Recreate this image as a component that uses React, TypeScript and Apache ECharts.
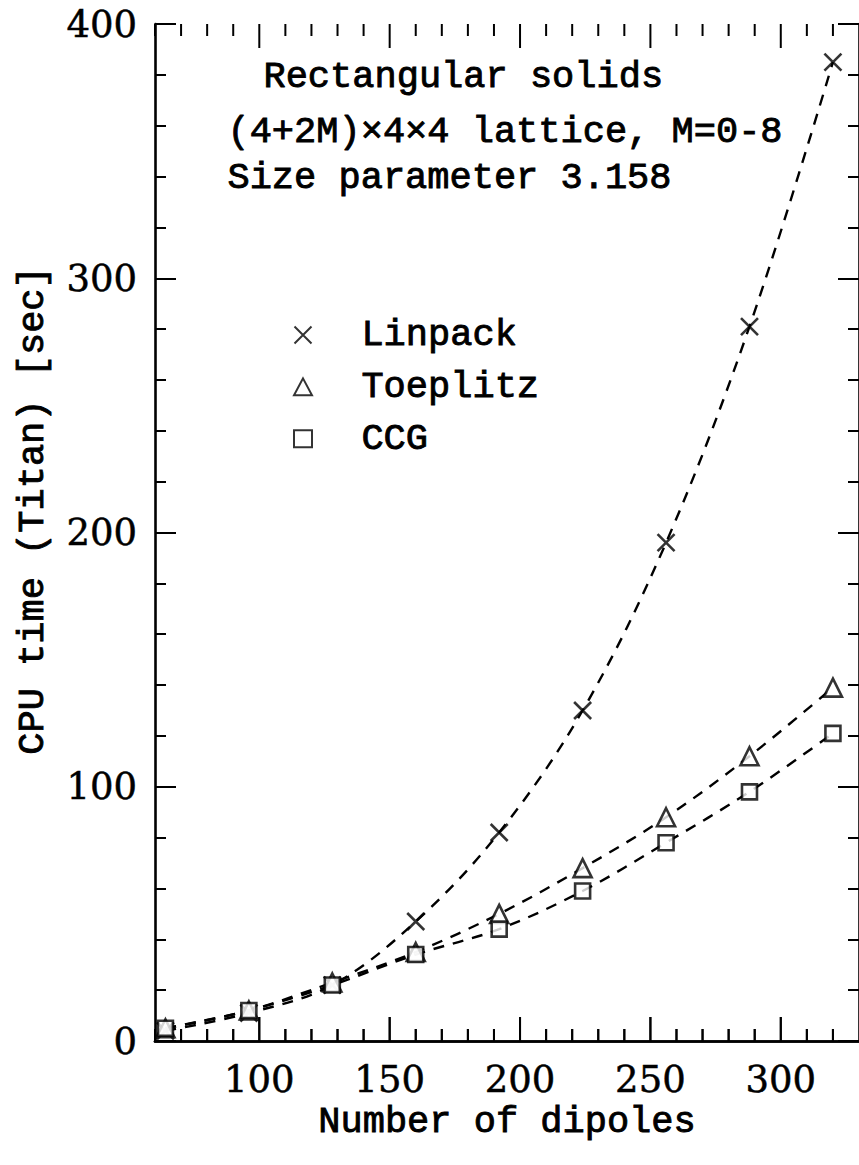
import React, { useEffect, useRef } from "react";
import * as echarts from "echarts";

const dipoles = [64, 96, 128, 160, 192, 224, 256, 288, 320];
const linpack = [4, 11, 22, 47, 82, 130, 196, 281, 385];
const toeplitz = [5, 12, 23, 35, 50, 68, 88, 112, 139];
const ccg = [5, 12, 22, 34, 44, 59, 78, 98, 121];

const xMajor = [100, 150, 200, 250, 300];
const xMinor = [60, 70, 80, 90, 110, 120, 130, 140, 160, 170, 180, 190, 210, 220, 230, 240, 260, 270, 280, 290, 310, 320];
const seriesNames = ["Linpack", "Toeplitz", "CCG"];
const noteLines = ["Rectangular solids", "(4+2M)×4×4 lattice, M=0-8", "Size parameter 3.158"];

const TEXT_FONT = "'Liberation Mono', 'DejaVu Sans Mono', monospace";
const TICK_FONT = "'DejaVu Serif', serif";
const INK = "#000";

export default function App() {
  const ref = useRef<HTMLDivElement>(null);
  useEffect(() => {
    document.body.style.margin = "0";
    const chart = echarts.init(ref.current!, null, { renderer: "svg" });
    const pts = (ys: number[]) => dipoles.map((x, i) => [x, ys[i]]);
    const axisLine = { show: true, lineStyle: { color: INK, width: 2.6 } };
    const tickStyle = { color: INK, width: 2 };
    const textStyle = { fontFamily: TEXT_FONT, fontSize: 37, color: INK, textBorderColor: INK, textBorderWidth: 0.9 };
    const tickLabel = { fontFamily: TICK_FONT, fontSize: 37, color: INK, textBorderColor: INK, textBorderWidth: 0.5 };
    const xBase = {
      type: "value",
      min: 60,
      max: 330,
      interval: 10,
      splitLine: { show: false },
      axisLine,
      axisTick: { show: false },
    };
    const fit = (name: string, ys: number[]) => ({
      name: name + " fit",
      type: "line",
      data: pts(ys),
      smooth: 0.35,
      symbol: "none",
      silent: true,
      z: 1,
      lineStyle: { color: INK, width: 2.4, type: [11, 9] },
    });
    const marks = (name: string, ys: number[], symbol: string, size: number) => ({
      name,
      type: "scatter",
      data: pts(ys),
      symbol,
      symbolSize: size,
      z: 3,
      itemStyle: { color: "#fff", borderColor: INK, borderWidth: 2.6 },
    });
    const tickValues = [...xMajor, ...xMinor];
    const tickData = tickValues.map((v) => [v, 200]);
    const notes = [
      { type: "text", left: 263, top: 76 - 18, style: { text: noteLines[0], font: `37px ${TEXT_FONT}`, fill: INK, stroke: INK, lineWidth: 0.9 } },
      { type: "text", left: 227, top: 131 - 18, style: { text: noteLines[1], font: `37px ${TEXT_FONT}`, fill: INK, stroke: INK, lineWidth: 0.9 } },
      { type: "text", left: 227, top: 177 - 18, style: { text: noteLines[2], font: `37px ${TEXT_FONT}`, fill: INK, stroke: INK, lineWidth: 0.9 } },
    ];
    chart.setOption({
      animation: false,
      grid: { left: 155, top: 24, width: 712, height: 1017, containLabel: false },
      legend: {
        data: seriesNames,
        orient: "vertical",
        left: 288,
        top: 311,
        itemWidth: 18,
        itemHeight: 17,
        itemGap: 14,
        selectedMode: false,
        formatter: (n: string) => "  " + n,
        textStyle: { ...textStyle, lineHeight: 37 },
      },
      xAxis: [
        {
          ...xBase,
          position: "bottom",
          name: "Number of dipoles",
          nameLocation: "middle",
          nameGap: 54,
          nameTextStyle: textStyle,
          axisLabel: { show: true, customValues: xMajor, margin: 20, ...tickLabel },
        },
        {
          ...xBase,
          position: "top",
          axisLabel: { show: false },
        },
      ],
      yAxis: [
        {
          type: "value",
          position: "left",
          min: 0,
          max: 400,
          interval: 100,
          splitLine: { show: false },
          axisLine,
          name: "CPU time (Titan) [sec]",
          nameLocation: "middle",
          nameGap: 104,
          nameTextStyle: { ...textStyle, padding: [0, 0, 0, 44] },
          axisTick: { show: true, inside: true, length: 21, lineStyle: tickStyle },
          minorTick: { show: true, splitNumber: 5, length: 11, lineStyle: tickStyle },
          axisLabel: { show: true, margin: 18, ...tickLabel },
        },
        {
          type: "value",
          position: "right",
          min: 0,
          max: 400,
          interval: 100,
          splitLine: { show: false },
          axisLine,
          axisTick: { show: true, inside: true, length: 21, lineStyle: tickStyle },
          minorTick: { show: true, splitNumber: 5, length: 11, lineStyle: tickStyle },
          axisLabel: { show: false },
        },
      ],
      graphic: notes,
      series: [
        {
          name: "x ticks",
          type: "custom",
          xAxisIndex: 0,
          yAxisIndex: 0,
          silent: true,
          clip: false,
          z: 5,
          data: tickData,
          encode: { x: 0, y: 1 },
          renderItem: (_p: any, api: any) => {
            const v = api.value(0);
            const len = xMajor.indexOf(v) >= 0 ? 24 : 12;
            const pb = api.coord([v, 0]);
            const pt = api.coord([v, 400]);
            const st = { fill: INK };
            return {
              type: "group",
              children: [
                { type: "rect", shape: { x: pb[0] - 1, y: pb[1] - len, width: 2, height: len }, style: st },
                { type: "rect", shape: { x: pt[0] - 1, y: pt[1], width: 2, height: len }, style: st },
              ],
            };
          },
        },
        fit("Linpack", linpack),
        fit("Toeplitz", toeplitz),
        fit("CCG", ccg),
        marks("Linpack", linpack, "path://M0 0L10 10M10 0L0 10", 17),
        marks("Toeplitz", toeplitz, "triangle", 18),
        marks("CCG", ccg, "rect", 15),
      ],
    });
    const yBottom = chart.convertToPixel({ yAxisIndex: 0 }, 0) as number;
    const bottomTicks = tickValues.map((v) => {
      const x = chart.convertToPixel({ xAxisIndex: 0 }, v) as number;
      const len = xMajor.indexOf(v) >= 0 ? 24 : 12;
      return {
        type: "rect",
        z: 100,
        silent: true,
        shape: { x: x - 1, y: yBottom - len, width: 2, height: len },
        style: { fill: INK },
      };
    });
    chart.setOption({ graphic: [...notes, ...bottomTicks] });
    return () => chart.dispose();
  }, []);
  return <div ref={ref} style={{ width: 859, height: 1165 }} />;
}
